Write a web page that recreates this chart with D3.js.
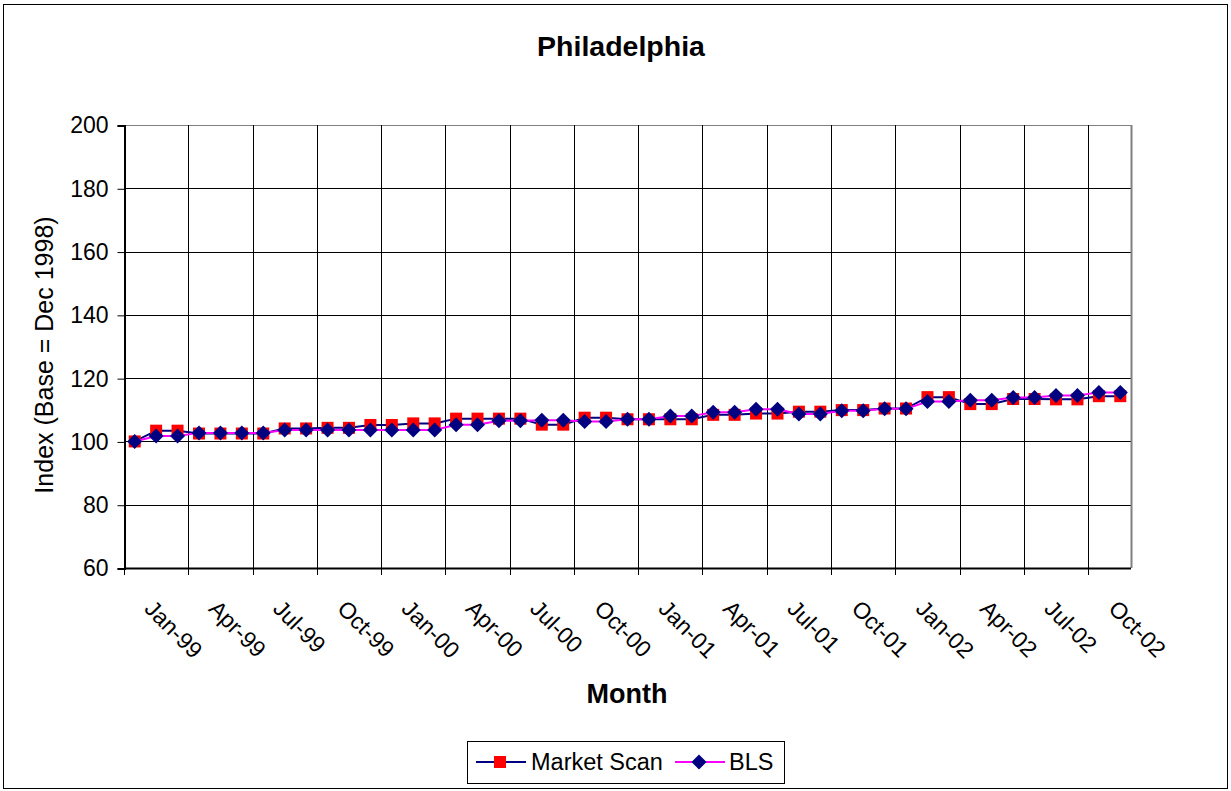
<!DOCTYPE html>
<html>
<head>
<meta charset="utf-8">
<script src="https://cdn.jsdelivr.net/npm/d3@7"></script>
<style>
  body { margin: 0; background: #fff; }
  text { font-family: "Liberation Sans", Arial, sans-serif; fill: #000; }
</style>
</head>
<body>
<div id="chart"></div>
<script>
var months = ["Dec-98","Jan-99","Feb-99","Mar-99","Apr-99","May-99","Jun-99","Jul-99","Aug-99","Sep-99","Oct-99","Nov-99",
  "Dec-99","Jan-00","Feb-00","Mar-00","Apr-00","May-00","Jun-00","Jul-00","Aug-00","Sep-00","Oct-00","Nov-00",
  "Dec-00","Jan-01","Feb-01","Mar-01","Apr-01","May-01","Jun-01","Jul-01","Aug-01","Sep-01","Oct-01","Nov-01",
  "Dec-01","Jan-02","Feb-02","Mar-02","Apr-02","May-02","Jun-02","Jul-02","Aug-02","Sep-02","Oct-02"];

// labels shown under the axis
var tickLabels = ["Jan-99","Apr-99","Jul-99","Oct-99","Jan-00","Apr-00","Jul-00","Oct-00",
  "Jan-01","Apr-01","Jul-01","Oct-01","Jan-02","Apr-02","Jul-02","Oct-02"];

var marketScan = [100, 103.4, 103.4, 102.5, 102.5, 102.5, 102.5, 104.1, 104.1, 104.3, 104.3, 105.2,
  105.2, 105.7, 105.7, 107.2, 107.2, 107.2, 107.2, 105.3, 105.3, 107.5, 107.5, 107.0,
  107.0, 107.0, 107.0, 108.4, 108.4, 108.8, 108.8, 109.4, 109.4, 109.9, 109.9, 110.4,
  110.4, 114.0, 114.0, 111.8, 111.8, 113.4, 113.4, 113.3, 113.3, 114.3, 114.3];

var bls = [100, 101.7, 101.7, 102.7, 102.7, 102.7, 102.7, 103.6, 103.6, 103.6, 103.6, 103.6,
  103.6, 103.6, 103.6, 105.3, 105.3, 106.5, 106.5, 106.7, 106.7, 106.3, 106.3, 107.0,
  107.0, 108.0, 108.0, 109.2, 109.2, 110.2, 110.2, 108.7, 108.7, 109.7, 109.7, 110.3,
  110.3, 112.6, 112.6, 113.0, 113.0, 113.9, 113.9, 114.5, 114.5, 115.5, 115.5];

var yTicks = [60, 80, 100, 120, 140, 160, 180, 200];

var W = 1231, H = 791,
    plot = {left: 124, right: 1131, top: 125, bottom: 568};

var svg = d3.select("#chart").append("svg")
  .attr("width", W)
  .attr("height", H);

// outer chart border
svg.append("rect")
  .attr("x", 3.5).attr("y", 4.5)
  .attr("width", 1224).attr("height", 784)
  .attr("fill", "#fff")
  .attr("stroke", "#000").attr("stroke-width", 1);

var x = d3.scaleBand()
  .domain(months)
  .range([plot.left, plot.right])
  .paddingInner(0).paddingOuter(0);

var y = d3.scaleLinear()
  .domain([60, 200])
  .range([plot.bottom, plot.top]);

var cx = function(m) { return x(m) + x.bandwidth() / 2; };
var crisp = function(v) { return Math.round(v) + 0.5; };

// horizontal gridlines
svg.append("g").selectAll("line")
  .data(yTicks.slice(1))
  .enter().append("line")
  .attr("x1", plot.left).attr("x2", plot.right)
  .attr("y1", function(d) { return crisp(y(d)); })
  .attr("y2", function(d) { return crisp(y(d)); })
  .attr("stroke", function(d) { return d == 200 ? "#808080" : "#000"; })
  .attr("stroke-width", 1);

// vertical gridlines every 3 months
var gridIdx = d3.range(3, months.length, 3);
svg.append("g").selectAll("line")
  .data(gridIdx)
  .enter().append("line")
  .attr("x1", function(i) { return crisp(x(months[i])); })
  .attr("x2", function(i) { return crisp(x(months[i])); })
  .attr("y1", plot.top).attr("y2", plot.bottom + 7)
  .attr("stroke", "#000").attr("stroke-width", 1);

// right border of plot area
svg.append("line")
  .attr("x1", crisp(plot.right)).attr("x2", crisp(plot.right))
  .attr("y1", plot.top).attr("y2", plot.bottom)
  .attr("stroke", "#808080").attr("stroke-width", 2);

// y axis
var yAxis = d3.axisLeft(y)
  .tickValues(yTicks)
  .tickSize(7)
  .tickPadding(9)
  .tickFormat(d3.format("d"));

var gy = svg.append("g")
  .attr("transform", "translate(" + (plot.left + 0.5) + ",0.5)")
  .call(yAxis);
gy.select(".domain").attr("stroke", "#000").attr("stroke-width", 2);
gy.selectAll(".tick line").attr("stroke", "#000");
gy.selectAll(".tick text")
  .style("font-size", "23px")
  .style("font-family", "'Liberation Sans', Arial, sans-serif");

// x axis line and tick marks
svg.append("line")
  .attr("x1", plot.left).attr("x2", plot.right)
  .attr("y1", crisp(plot.bottom)).attr("y2", crisp(plot.bottom))
  .attr("stroke", "#000").attr("stroke-width", 2);
svg.append("line")
  .attr("x1", crisp(plot.left)).attr("x2", crisp(plot.left))
  .attr("y1", plot.bottom).attr("y2", plot.bottom + 7)
  .attr("stroke", "#000");

// rotated x labels
svg.append("g").selectAll("text")
  .data(tickLabels)
  .enter().append("text")
  .attr("transform", function(d) {
    return "translate(" + (cx(d) - 13) + "," + (plot.bottom + 42) + ") rotate(45)";
  })
  .attr("text-anchor", "start")
  .style("font-size", "23px")
  .text(function(d) { return d; });

// series
var line = d3.line()
  .x(function(d, i) { return cx(months[i]); })
  .y(function(d) { return y(d); });

svg.append("path")
  .datum(marketScan)
  .attr("d", line)
  .attr("fill", "none")
  .attr("stroke", "#000080")
  .attr("stroke-width", 2);

svg.append("g").selectAll("rect")
  .data(marketScan)
  .enter().append("rect")
  .attr("x", function(d, i) { return cx(months[i]) - 6; })
  .attr("y", function(d) { return y(d) - 6; })
  .attr("width", 12).attr("height", 12)
  .attr("fill", "#ff0000");

svg.append("path")
  .datum(bls)
  .attr("d", line)
  .attr("fill", "none")
  .attr("stroke", "#ff00ff")
  .attr("stroke-width", 2);

var diamond = function(px, py, r) {
  return "M" + px + "," + (py - r) + "L" + (px + r) + "," + py + "L" + px + "," + (py + r) + "L" + (px - r) + "," + py + "Z";
};

svg.append("g").selectAll("path")
  .data(bls)
  .enter().append("path")
  .attr("d", function(d, i) { return diamond(cx(months[i]), y(d), 7.5); })
  .attr("fill", "#000080");

// titles
svg.append("text")
  .attr("x", 621).attr("y", 56)
  .attr("text-anchor", "middle")
  .style("font-size", "28.5px").style("font-weight", "bold")
  .text("Philadelphia");

svg.append("text")
  .attr("x", 627).attr("y", 703)
  .attr("text-anchor", "middle")
  .style("font-size", "27px").style("font-weight", "bold")
  .text("Month");

svg.append("text")
  .attr("transform", "translate(53,355) rotate(-90)")
  .attr("text-anchor", "middle")
  .style("font-size", "25px")
  .text("Index (Base = Dec 1998)");

// legend
var legend = svg.append("g");
legend.append("rect")
  .attr("x", 467.5).attr("y", 741.5)
  .attr("width", 317).attr("height", 42)
  .attr("fill", "#fff").attr("stroke", "#000");

legend.append("line")
  .attr("x1", 476).attr("x2", 526).attr("y1", 762).attr("y2", 762)
  .attr("stroke", "#000080").attr("stroke-width", 2);
legend.append("rect")
  .attr("x", 494).attr("y", 756).attr("width", 12).attr("height", 12)
  .attr("fill", "#ff0000");
legend.append("text")
  .attr("x", 531).attr("y", 770)
  .style("font-size", "23.5px")
  .text("Market Scan");

legend.append("line")
  .attr("x1", 675).attr("x2", 725).attr("y1", 762).attr("y2", 762)
  .attr("stroke", "#ff00ff").attr("stroke-width", 2);
legend.append("path")
  .attr("d", diamond(699, 762, 7.5))
  .attr("fill", "#000080");
legend.append("text")
  .attr("x", 729).attr("y", 770)
  .style("font-size", "23.5px")
  .text("BLS");
</script>
</body>
</html>
